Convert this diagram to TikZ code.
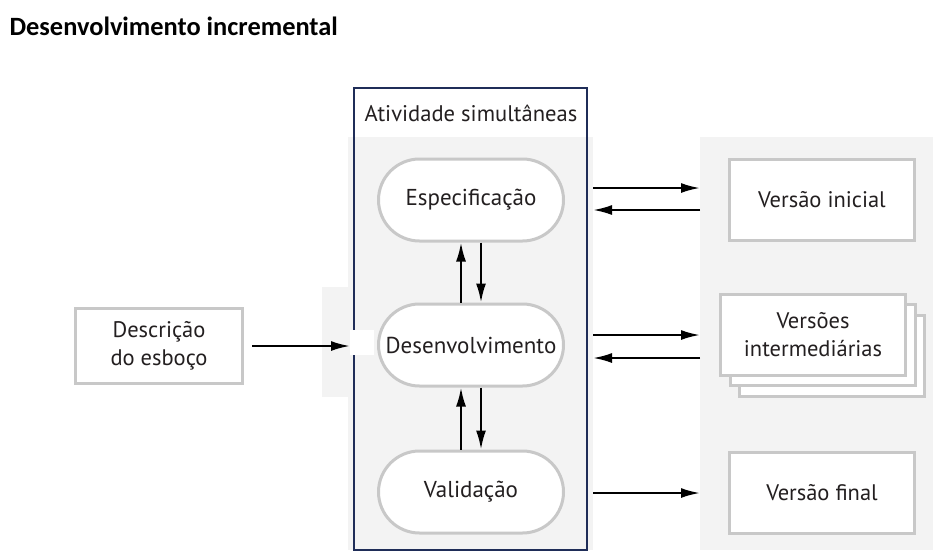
\documentclass[tikz,border=0pt]{standalone}
\usepackage{fontspec}
\setmainfont{PT Sans}
\newfontfamily\titlefont{Carlito}
\usetikzlibrary{arrows.meta,positioning}
\definecolor{boxgray}{RGB}{200,200,200}
\definecolor{bggray}{RGB}{243,243,243}
\definecolor{navy}{RGB}{31,45,88}
\definecolor{ink}{RGB}{35,31,32}

\begin{document}
\begin{tikzpicture}[x=1pt,y=-1pt,
    pill/.style={draw=boxgray, line width=3pt, fill=white, rounded corners=41pt,
      minimum width=185pt, minimum height=82pt, text=ink, font=\fontsize{23}{27}\selectfont},
    verbox/.style={draw=boxgray, line width=3pt, fill=white, minimum width=185pt,
      minimum height=81pt, align=center, text=ink, font=\fontsize{22.5}{28}\selectfont},
    flow/.style={-{Latex[length=19pt,width=10pt]}, line width=2.2pt}]
  \useasboundingbox (0,0) rectangle (942,555);

  % Title
  \node[anchor=base west, font=\titlefont\bfseries\fontsize{26.4}{30}\selectfont] (title) at (6,35) {Desenvolvimento incremental};

  % Backgrounds
  \fill[bggray] (348,137) rectangle (593,550);
  \fill[bggray] (322,287) rectangle (354,397);
  \fill[bggray] (700,137) rectangle (933,550);

  % Simultaneous activities frame
  \node[draw=navy, line width=1.3pt, minimum width=233pt, minimum height=462pt] (simul) at (470.5,319) {};
  \node[text=ink, font=\fontsize{22.6}{26}\selectfont] (simullabel) at (471,113) {Atividade simultâneas};
  \fill[white] (350,330) rectangle (374,355);

  % Activities
  \node[pill] (espec) at (471,200) {Especificação};
  \node[pill] (desenv) at (471,345) {Desenvolvimento};
  \node[pill] (valid) at (471,492) {Validação};

  \draw[flow] ([xshift=-10pt]desenv.north) -- ([xshift=-10pt]espec.south);
  \draw[flow] ([xshift=10pt]espec.south) -- ([xshift=10pt]desenv.north);
  \draw[flow] ([xshift=-10pt]valid.north) -- ([xshift=-10pt]desenv.south);
  \draw[flow] ([xshift=10pt]desenv.south) -- ([xshift=10pt]valid.north);

  % Outline description
  \node[verbox, minimum width=167pt, minimum height=75pt] (descr) at (159,346) {Descrição\\do esboço};
  \coordinate (entry) at (350,346);
  \draw[flow] ([xshift=8pt]descr.east) -- (entry);

  % Versions
  \node[verbox] (inicial) at (822,200) {Versão inicial};
  \node[verbox] (inter3) at (832,356) {};
  \node[verbox] (inter2) at (823,345) {};
  \node[verbox] (inter) at (813,335) {Versões\\intermediárias};
  \node[verbox] (final) at (822,493) {Versão final};

  \coordinate (out1) at (593,188);
  \coordinate (in1) at (700,210);
  \coordinate (out2) at (593,335);
  \coordinate (in2) at (700,358);
  \coordinate (out3) at (593,493);
  \draw[flow] (out1) -- (out1 -| in1);
  \draw[flow] (in1) -- (in1 -| out1);
  \draw[flow] (out2) -- (out2 -| in2);
  \draw[flow] (in2) -- (in2 -| out2);
  \draw[flow] (out3) -- (out3 -| in1);
\end{tikzpicture}
\end{document}
